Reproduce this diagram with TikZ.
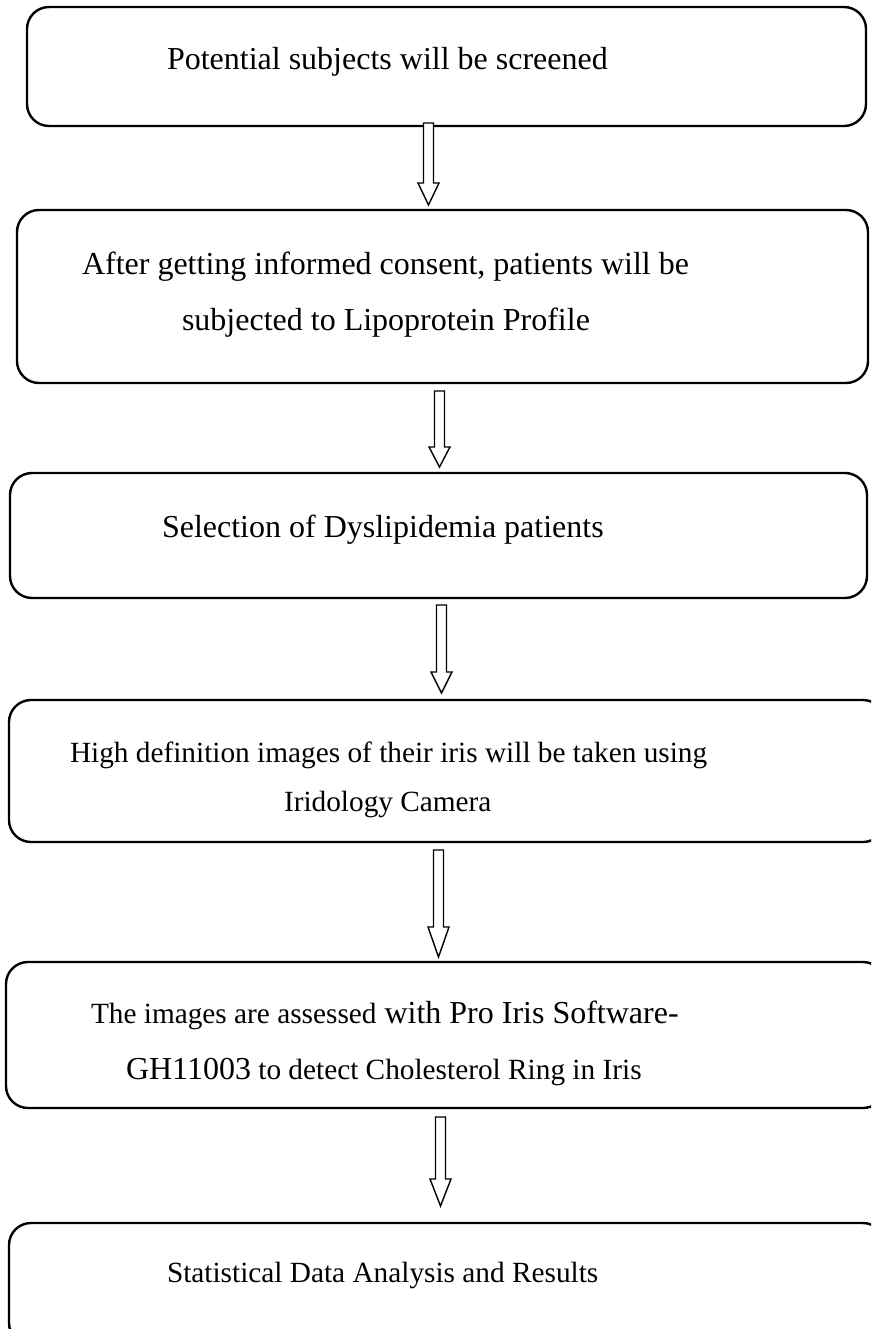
\documentclass[tikz,border=0pt]{standalone}
\usepackage{fontspec}
\setmainfont{Liberation Serif}
\usetikzlibrary{calc}
\newcommand\hollowarrow[3]{%
  \draw[arrowline] let \p1=(#1), \p2=(#2) in
  (\x2-5pt,\y1) -- (\x2-5pt,\y2+#3) -- (\x2-10.5pt,\y2+#3) -- (\x2,\y2)
  -- (\x2+10.5pt,\y2+#3) -- (\x2+5pt,\y2+#3) -- (\x2+5pt,\y1) -- cycle;}
\newcommand\smallsz{\fontsize{29.3}{35}\selectfont}
\begin{document}
\begin{tikzpicture}[x=1pt,y=-1pt,
  stepbox/.style={draw=black, line width=2.4pt, rounded corners=22pt, inner sep=0pt, outer sep=0pt},
  arrowline/.style={draw=black, fill=white, line width=1.4pt, line join=miter},
  txt/.style={inner sep=0pt, outer sep=0pt, anchor=base west, font=\fontsize{32}{38}\selectfont},
  smalltxt/.style={txt, font=\smallsz}]
\useasboundingbox (0,0) rectangle (871,1329);
\clip (0,0) rectangle (871,1329);
% boxes
\node[stepbox, minimum width=839pt, minimum height=119pt] (b1) at (446.5,66.5) {};
\node[stepbox, minimum width=851pt, minimum height=173pt] (b2) at (442.5,296.5) {};
\node[stepbox, minimum width=857pt, minimum height=125pt] (b3) at (438.5,535.5) {};
\node[stepbox, minimum width=876pt, minimum height=142pt] (b4) at (447,771) {};
\node[stepbox, minimum width=879pt, minimum height=146pt] (b5) at (445.5,1035) {};
\node[stepbox, minimum width=876pt, minimum height=122pt] (b6) at (447,1284) {};
% texts
\node[txt] (t1) at (167,70) {Potential subjects will be screened};
\node[txt] (t2a) at (82,275) {After getting informed consent, patients will be};
\node[txt] (t2b) at (182,330) {subjected to Lipoprotein Profile};
\node[txt] (t3) at (162,537) {Selection of Dyslipidemia patients};
\node[smalltxt] (t4a) at (70,762) {High definition images of their iris will be taken using};
\node[smalltxt] (t4b) at (284,811) {Iridology Camera};
\node[txt] (t5a) at (91,1023) {{\smallsz The images are assessed} with Pro Iris Software-};
\node[txt] (t5b) at (126,1079) {GH11003{\smallsz\ to detect Cholesterol Ring in Iris}};
\node[smalltxt] (t6) at (167,1282) {Statistical Data Analysis and Results};
% connector end points
\coordinate (a1s) at ([yshift=3pt]428,0 |- b1.south);
\coordinate (a1e) at ([yshift=5pt]428.5,0 |- b2.north);
\coordinate (a2s) at ([yshift=-8pt]438.5,0 |- b2.south);
\coordinate (a2e) at ([yshift=6pt]439.5,0 |- b3.north);
\coordinate (a3s) at ([yshift=-7pt]441.5,0 |- b3.south);
\coordinate (a3e) at ([yshift=7pt]441.5,0 |- b4.north);
\coordinate (a4s) at ([yshift=-8pt]437.5,0 |- b4.south);
\coordinate (a4e) at ([yshift=5pt]438.5,0 |- b5.north);
\coordinate (a5s) at ([yshift=-9pt]442.5,0 |- b5.south);
\coordinate (a5e) at ([yshift=17pt]440.5,0 |- b6.north);
% connectors
\hollowarrow{a1s}{a1e}{22pt}
\hollowarrow{a2s}{a2e}{20pt}
\hollowarrow{a3s}{a3e}{21pt}
\hollowarrow{a4s}{a4e}{30pt}
\hollowarrow{a5s}{a5e}{27pt}
\end{tikzpicture}
\end{document}
